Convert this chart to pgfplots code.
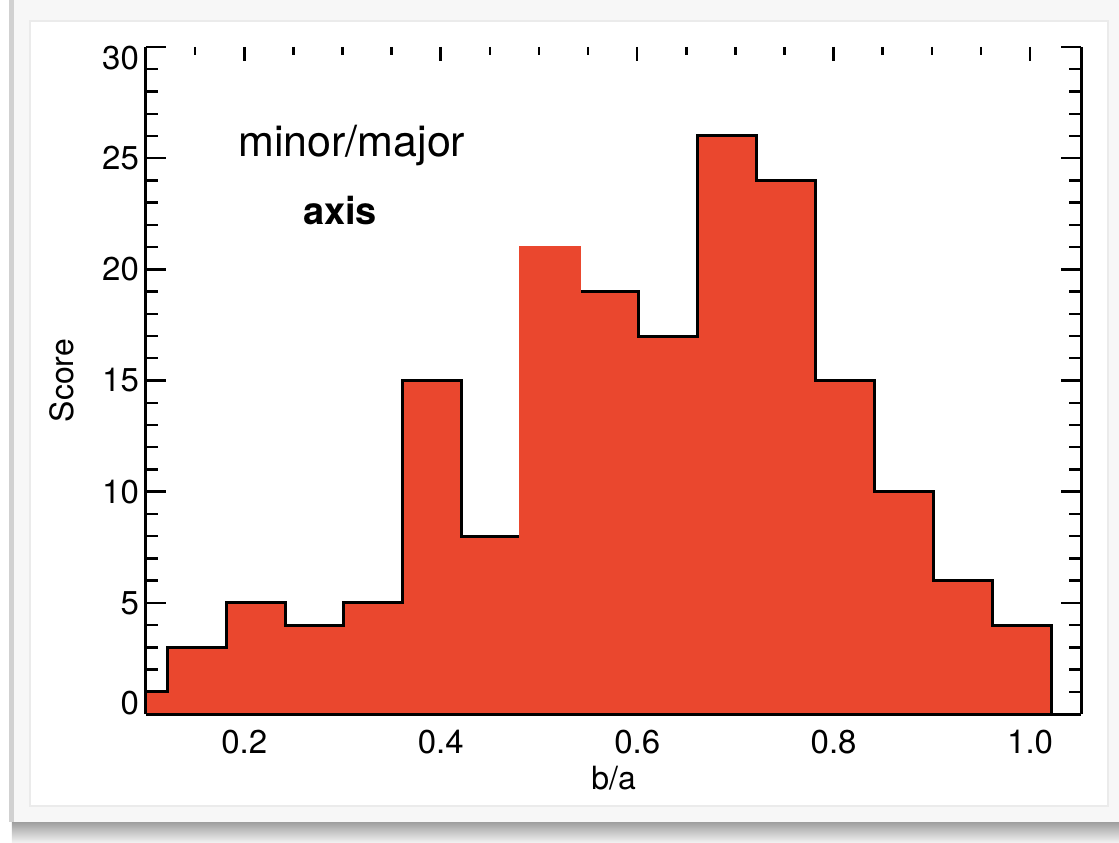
\documentclass[border=0pt]{standalone}
\usepackage{fontspec}
\setmainfont{TeX Gyre Heros}
\usepackage{pgfplots}
\pgfplotsset{compat=1.18}
\usepackage{pgfplotstable}
\definecolor{histred}{RGB}{234,71,46}

\pgfplotstableread{
x y
0.0615 1
0.1215 3
0.1815 5
0.2415 4
0.3015 5
0.3615 15
0.4215 8
0.4815 21
0.5415 19
0.6015 17
0.6615 26
0.7215 24
0.7815 15
0.8415 10
0.9015 6
0.9615 4
1.0215 4
1.0215 0
}\histdata

\begin{document}
\begin{tikzpicture}
% card / frame decoration
\path[use as bounding box] (-73pt,-64pt) rectangle (486.5pt,357pt);
\fill[black!3] (-67pt,-54pt) rectangle (486.5pt,357pt);
\shade[top color=black!38, bottom color=black!6] (-67pt,-64pt) rectangle (486.5pt,-54pt);
\draw[black!18, line width=2.5pt] (-67pt,357pt) -- (-67pt,-54pt);
\fill[white, draw=black!8, line width=0.6pt] (-58pt,-46pt) rectangle (481pt,346.5pt);

\begin{axis}[
  at={(0,0)}, anchor=south west,
  width=467.6pt, height=333.5pt, scale only axis,
  xmin=0.1, xmax=1.052, ymin=0, ymax=30,
  axis x line*=bottom, axis y line*=box,
  axis line style={-, line width=1.5pt, black},
  axis on top,
  font=\fontsize{16.5}{18}\selectfont,
  xtick={0.2,0.4,0.6,0.8,1.0},
  xticklabels={0.2,0.4,0.6,0.8,1.0},
  xtick style={draw=none},
  xticklabel style={anchor=center, yshift=-14pt},
  ytick={0,5,10,15,20,25,30},
  yticklabels={\smash{\raisebox{-0.4pt}{0}},5,10,15,20,25,\smash{\raisebox{-11.4pt}{30}}},
  minor y tick num=4,
  tick align=inside,
  major tick length=10pt, minor tick length=6pt,
  ytick style={black, line width=1.2pt},
  xlabel={b/a}, ylabel={Score},
  every axis x label/.style={at={(axis description cs:0.5,0)}, anchor=center, yshift=-32pt, font=\fontsize{16}{18}\selectfont},
  every axis y label/.style={at={(axis description cs:-0.0898,0.5)}, rotate=90, anchor=center, font=\fontsize{16}{18}\selectfont},
]
\addplot[const plot, fill=histred, draw=none] table[x=x, y=y] {\histdata} \closedcycle;
\addplot[const plot, draw=black, line width=1.5pt] table[x=x, y=y] {\histdata};
\addplot[fill=histred, draw=histred, line width=1.5pt] coordinates {(0.4815,0) (0.4815,21) (0.5415,21) (0.5415,0)} -- cycle;
\end{axis}

\begin{axis}[
  at={(0,0)}, anchor=south west,
  width=467.6pt, height=333.5pt, scale only axis,
  xmin=0.1, xmax=1.052, ymin=0, ymax=30,
  axis x line*=top, axis y line=none,
  axis line style={draw=none},
  xtick={0.2,0.4,0.6,0.8,1.0},
  xticklabels={},
  minor xtick={0.15,0.25,0.3,0.35,0.45,0.5,0.55,0.65,0.7,0.75,0.85,0.9,0.95},
  tick align=inside,
  major tick length=7pt, minor tick length=4pt,
  xtick style={black, line width=1.3pt},
]
\end{axis}

\node[anchor=base, font=\fontsize{21.5}{24}\selectfont] at (102.9pt,278.6pt) {minor/major};
\node[anchor=base, font=\bfseries\fontsize{19}{22}\selectfont] at (97pt,244.5pt) {axis};
\end{tikzpicture}
\end{document}
